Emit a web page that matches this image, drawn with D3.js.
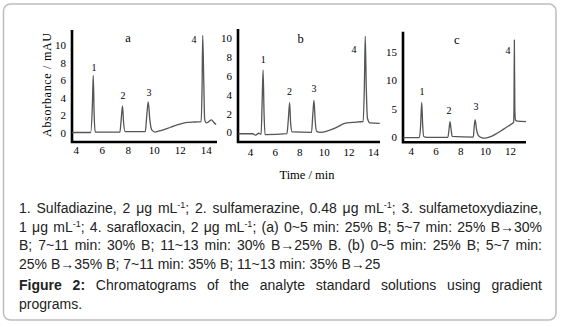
<!DOCTYPE html>
<html>
<head>
<meta charset="utf-8">
<script src="https://cdn.jsdelivr.net/npm/d3@7"></script>
<style>
  body { margin: 0; background: #fff; }
  #wrap { position: relative; width: 562px; height: 327px; overflow: hidden; }
  #chart { position: absolute; left: 0; top: 0; }
  .caption {
    position: absolute; left: 19px; width: 523px;
    font-family: "Liberation Sans", Arial, sans-serif; font-size: 14px; color: #222;
  }
  .caption div { height: 18.6px; line-height: 18.6px; }
  .caption .just { text-align: justify; text-align-last: justify; }
  .caption sup { font-size: 9px; line-height: 0; vertical-align: 5px; }
</style>
</head>
<body>
<div id="wrap">
  <svg id="chart" width="562" height="327"></svg>
  <div class="caption" id="legendText" style="top:199px"></div>
  <div class="caption" id="figText" style="top:276px"></div>
</div>
<script>
// chromatogram traces: [time (min), absorbance (mAU)]
const traceA = [
  [3.72, 0], [5.15, 0], [5.28, 3], [5.35, 6.5], [5.42, 2], [5.5, 0.05],
  [7.4, 0.05], [7.5, 1.5], [7.6, 3.05], [7.68, 1.2], [7.8, 0.1],
  [9.35, 0.1], [9.47, 2], [9.58, 3.5], [9.7, 1.5], [9.85, 0.3], [10.1, 0.05],
  [10.6, 0.25], [11.3, 0.6], [12.0, 0.95], [12.6, 1.15], [13.2, 1.2], [13.65, 1.25],
  [13.72, 5], [13.77, 11.1], [13.85, 6], [13.92, 1.5], [14.05, 1.1], [14.2, 1.2],
  [14.45, 1.45], [14.6, 1.2], [14.8, 0.9],
];
const traceB = [
  [3.05, -0.15], [4.2, -0.15], [4.45, -0.3], [4.7, -0.1], [4.9, -0.2],
  [4.98, 3], [5.06, 6.6], [5.14, 2], [5.22, -0.25], [7.0, -0.15],
  [7.12, 1.5], [7.22, 3.15], [7.3, 1], [7.42, 0.05], [9.0, 0.0],
  [9.1, 1.8], [9.2, 3.4], [9.3, 1.2], [9.42, 0.1], [9.7, 0.0],
  [10.3, 0.15], [11.0, 0.5], [11.7, 0.95], [12.3, 1.05], [13.2, 1.15],
  [13.3, 5], [13.37, 10.2], [13.45, 5], [13.55, 1.5], [13.75, 1.0], [14.55, 0.95],
];
const traceC = [
  [3.4, -0.1], [4.7, -0.1], [4.8, 2], [4.89, 6.1], [4.97, 2], [5.05, 0.1], [5.3, -0.05],
  [7.0, -0.05], [7.1, 1.5], [7.17, 2.7], [7.25, 1.5], [7.35, 0.1],
  [9.05, 0], [9.13, 2], [9.2, 3.0], [9.3, 1.5], [9.45, 0.3], [9.7, -0.1], [10.0, -0.2],
  [10.5, 0.1], [11.0, 0.7], [11.5, 1.4], [12.0, 2.1], [12.3, 2.6],
  [12.33, 4.8], [12.36, 17.1], [12.4, 4.8], [12.45, 3.0], [12.6, 2.8], [13.3, 2.7],
];

const timeTicksAB = [4, 6, 8, 10, 12, 14];
const timeTicksC = [4, 6, 8, 10, 12];
const absTicksAB = [0, 2, 4, 6, 8, 10];
const absTicksC = [0, 5, 10, 15];

// peak numbers and panel letters, anchored in data units
const labelsA = [['a', 8.02, 10.8], ['1', 5.4, 7.4], ['2', 7.64, 4.2], ['3', 9.64, 4.55], ['4', 13.11, 10.57]];
const labelsB = [['b', 8.12, 10.0], ['1', 5.08, 7.73], ['2', 7.2, 4.39], ['3', 9.2, 4.68], ['4', 12.46, 8.76]];
const labelsC = [['c', 7.71, 17.1], ['1', 4.91, 8.0], ['2', 7.09, 4.6], ['3', 9.27, 5.3], ['4', 11.85, 15.3]];

const panels = [
  {
    trace: traceA, labels: labelsA, xTicks: timeTicksAB, yTicks: absTicksAB,
    xDomain: [3.715, 14.87], yDomain: [-1.086, 11.71],
    left: 72, right: 217, top: 30, bottom: 142, xPad: 4,
  },
  {
    trace: traceB, labels: labelsB, xTicks: timeTicksAB, yTicks: absTicksAB,
    xDomain: [3.02, 14.57], yDomain: [-1.03, 10.99],
    left: 238, right: 380, top: 29, bottom: 142, xPad: 6,
  },
  {
    trace: traceC, labels: labelsC, xTicks: timeTicksC, yTicks: absTicksC,
    xDomain: [3.38, 13.3], yDomain: [-0.93, 18.57],
    left: 403, right: 526, top: 31.7, bottom: 142.3, xPad: 5,
  },
];

const svg = d3.select('#chart');
const serif = '"Liberation Serif", "Times New Roman", serif';

// outer card
svg.append('rect')
  .attr('x', 3.5)
  .attr('y', 4)
  .attr('width', 552.5)
  .attr('height', 316)
  .attr('rx', 7)
  .attr('fill', '#fff')
  .attr('stroke', '#bdbdbd')
  .attr('stroke-width', 1.5);

panels.forEach((p) => {
  const x = d3.scaleLinear().domain(p.xDomain).range([p.left, p.right]);
  const y = d3.scaleLinear().domain(p.yDomain).range([p.bottom, p.top]);
  const g = svg.append('g');

  const xAxis = g.append('g')
    .attr('transform', `translate(0,${p.bottom})`)
    .call(d3.axisBottom(x).tickValues(p.xTicks).tickSize(0).tickPadding(p.xPad));
  const yAxis = g.append('g')
    .attr('transform', `translate(${p.left},0)`)
    .call(d3.axisLeft(y).tickValues(p.yTicks).tickSize(0).tickPadding(6));
  [xAxis, yAxis].forEach((a) => {
    a.select('.domain').remove();
    a.selectAll('text')
      .attr('fill', '#000')
      .style('font-family', serif)
      .style('font-size', '11px');
  });

  // thick L-shaped frame
  g.append('path')
    .attr('d', `M${p.left},${p.top}V${p.bottom}H${p.right}`)
    .attr('fill', 'none')
    .attr('stroke', '#000')
    .attr('stroke-width', 2.6)
    .attr('stroke-linejoin', 'miter');

  g.append('path')
    .datum(p.trace)
    .attr('d', d3.line()
      .x((d) => x(d[0]))
      .y((d) => y(d[1]))
      .curve(d3.curveMonotoneX))
    .attr('fill', 'none')
    .attr('stroke', '#555')
    .attr('stroke-width', 1.3);

  g.selectAll('.peakLabel')
    .data(p.labels)
    .join('text')
      .attr('class', 'peakLabel')
      .attr('x', (d) => x(d[1]))
      .attr('y', (d) => y(d[2]))
      .attr('dy', '0.35em')
      .attr('text-anchor', 'middle')
      .style('font-family', serif)
      .style('font-size', (d) => (d[0] === '1' || d[0] === '2' || d[0] === '3' || d[0] === '4' ? '10px' : '12.5px'))
      .text((d) => d[0]);
});

svg.append('text')
  .attr('transform', 'translate(47,85) rotate(-90)')
  .attr('text-anchor', 'middle')
  .attr('dy', '0.35em')
  .attr('textLength', 104)
  .attr('lengthAdjust', 'spacing')
  .style('font-family', serif)
  .style('font-size', '12px')
  .text('Absorbance / mAU');

svg.append('text')
  .attr('x', 307)
  .attr('y', 175)
  .attr('dy', '0.35em')
  .attr('text-anchor', 'middle')
  .style('font-family', serif)
  .style('font-size', '12.5px')
  .text('Time / min');

// caption, line breaks kept as in the figure
const unit = 'μg mL<sup>-1</sup>';
const legendLines = [
  `1. Sulfadiazine, 2 ${unit}; 2. sulfamerazine, 0.48 ${unit}; 3. sulfametoxydiazine,`,
  `1 ${unit}; 4. sarafloxacin, 2 ${unit}; (a) 0~5 min: 25% B; 5~7 min: 25% B→30%`,
  'B; 7~11 min: 30% B; 11~13 min: 30% B→25% B. (b) 0~5 min: 25% B; 5~7 min:',
  '25% B→35% B; 7~11 min: 35% B; 11~13 min: 35% B→25',
];
const figLines = [
  '<b>Figure 2:</b> Chromatograms of the analyte standard solutions using gradient',
  'programs.',
];

function fillLines(sel, lines) {
  d3.select(sel).selectAll('div')
    .data(lines)
    .join('div')
      .attr('class', (d, i) => (i < lines.length - 1 ? 'just' : null))
      .html((d) => d);
}
fillLines('#legendText', legendLines);
fillLines('#figText', figLines);
</script>
</body>
</html>
